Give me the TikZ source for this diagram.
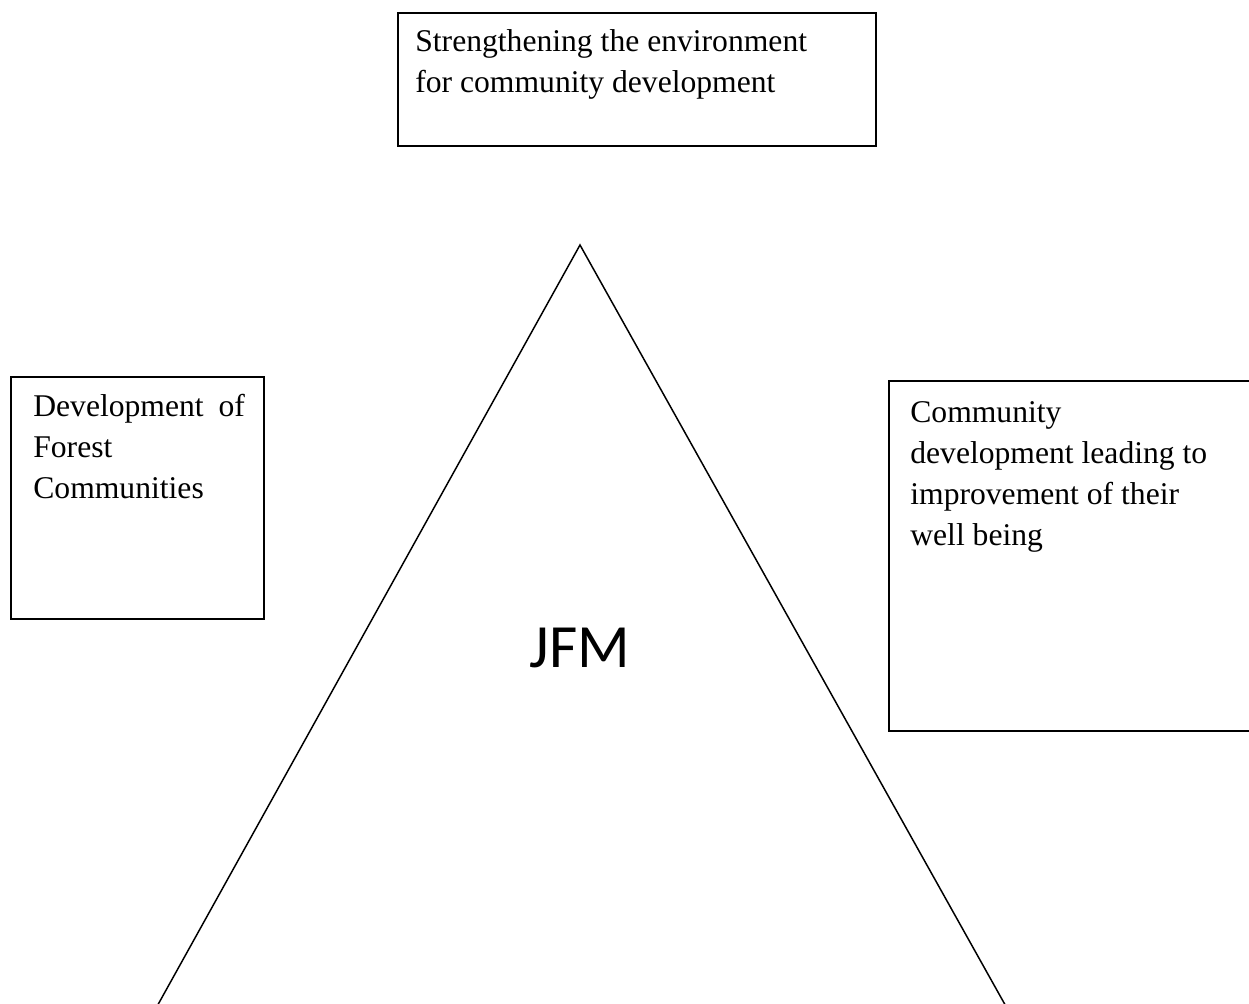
\documentclass[tikz,border=0pt]{standalone}
\usepackage{fontspec}
\setmainfont{Liberation Serif}
\newfontfamily\jfmfont{Carlito}
\usetikzlibrary{positioning}

\begin{document}
\begin{tikzpicture}[x=0.02cm,y=-0.02cm,
	box/.style = {draw, line width=1.1pt, anchor=north west, inner sep=0pt},
	boxtext/.style = {anchor=base west, inner sep=0pt, align=left,
		font=\fontsize{18pt}{23.3pt}\selectfont}]
	\useasboundingbox (0,0) rectangle (1249,1004);
	\clip (0,0) rectangle (1249,1004);
	% boxes
	\node[box, minimum width=478*0.02cm, minimum height=133*0.02cm] (topbox) at (397,12) {};
	\node[box, minimum width=253*0.02cm, minimum height=242*0.02cm] (leftbox) at (10,376) {};
	\node[box, minimum width=400*0.02cm, minimum height=350*0.02cm] (rightbox) at (888,380) {};
	% texts (anchored at the last line)
	\node[boxtext] (strengthen) at (415,92) {Strengthening the environment\\for community development};
	\node[boxtext] (forestdev) at (33,498) {Development\hspace{0.47em}of\\Forest\\Communities};
	\node[boxtext] (commdev) at (910,545) {Community\\development leading to\\improvement of their\\well being};
	% triangle
	\coordinate (apex) at (580,245);
	\coordinate (baseL) at (155,1010);
	\coordinate (baseR) at (1008,1010);
	\draw[line width=0.85pt] (baseL) -- (apex) -- (baseR) -- cycle;
	\node[anchor=base, inner sep=0pt, font=\jfmfont\fontsize{35pt}{40pt}\selectfont] (jfm) at (580,667) {JFM};
\end{tikzpicture}
\end{document}
